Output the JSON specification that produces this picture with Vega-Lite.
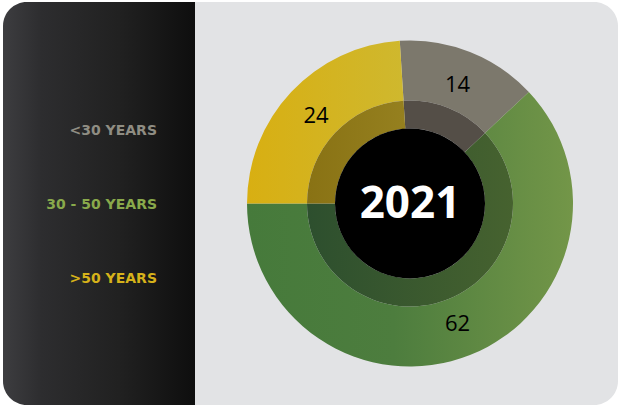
{
  "$schema": "https://vega.github.io/schema/vega-lite/v6.json",
  "width": 618,
  "height": 405,
  "autosize": {"type": "fit", "contains": "padding"},
  "padding": {"left": 3, "top": 2, "right": 0, "bottom": 0},
  "background": "#ffffff",
  "config": {"view": {"fill": "#e2e3e5", "stroke": null, "cornerRadius": 24}},
  "data": {"values": [
    {"group": "<30 YEARS", "value": 14, "order": 2},
    {"group": "30 - 50 YEARS", "value": 62, "order": 3},
    {"group": ">50 YEARS", "value": 24, "order": 1}
  ]},
  "layer": [
    {
      "data": {"values": [{}]},
      "mark": {
        "type": "rect",
        "cornerRadiusTopLeft": 24,
        "cornerRadiusBottomLeft": 24,
        "fill": {"gradient": "linear", "x1": 0, "y1": 0, "x2": 1, "y2": 0, "stops": [
          {"offset": 0, "color": "#3d3d40"},
          {"offset": 0.2, "color": "#2d2d2f"},
          {"offset": 0.6, "color": "#212121"},
          {"offset": 1, "color": "#0e0e0e"}
        ]}
      },
      "encoding": {
        "x": {"datum": 0, "type": "quantitative", "scale": {"domain": [0, 615], "nice": false, "zero": false}, "axis": null},
        "x2": {"datum": 192}
      }
    },
    {
      "mark": {"type": "text", "font": "DejaVu Sans", "fontWeight": "bold", "fontSize": 14, "align": "right", "baseline": "middle"},
      "encoding": {
        "x": {"datum": 154, "type": "quantitative"},
        "y": {"field": "group", "type": "nominal", "scale": {"type": "point", "domain": ["<30 YEARS", "30 - 50 YEARS", ">50 YEARS"], "range": [129, 277], "padding": 0}, "axis": null},
        "text": {"field": "group"},
        "fill": {
          "condition": [
            {"test": "datum.group === '<30 YEARS'", "value": "#8f8d83"},
            {"test": "datum.group === '30 - 50 YEARS'", "value": "#89a94b"}
          ],
          "value": "#d6b21a"
        }
      }
    },
    {
      "mark": {"type": "arc", "radius": 163, "radius2": 103},
      "encoding": {
        "x": {"datum": 407, "type": "quantitative"},
        "theta": {"field": "value", "type": "quantitative", "stack": true, "scale": {"range": [4.712389, 10.995574]}},
        "order": {"field": "order"},
        "fill": {
          "condition": [
            {"test": "datum.group === '<30 YEARS'", "value": "#7c786c"},
            {"test": "datum.group === '30 - 50 YEARS'", "value": {"gradient": "linear", "x1": 0, "y1": 0, "x2": 1, "y2": 0, "stops": [
              {"offset": 0, "color": "#467a3b"},
              {"offset": 0.45, "color": "#4d7d3e"},
              {"offset": 1, "color": "#739648"}
            ]}}
          ],
          "value": {"gradient": "linear", "x1": 0, "y1": 0, "x2": 1, "y2": 0, "stops": [
            {"offset": 0, "color": "#d8af12"},
            {"offset": 1, "color": "#cfb82e"}
          ]}
        }
      }
    },
    {
      "mark": {"type": "arc", "radius": 103, "radius2": 75},
      "encoding": {
        "x": {"datum": 407, "type": "quantitative"},
        "theta": {"field": "value", "type": "quantitative", "stack": true},
        "order": {"field": "order"},
        "fill": {
          "condition": [
            {"test": "datum.group === '<30 YEARS'", "value": "#544e47"},
            {"test": "datum.group === '30 - 50 YEARS'", "value": {"gradient": "linear", "x1": 0, "y1": 0, "x2": 1, "y2": 0, "stops": [
              {"offset": 0, "color": "#2d4f2e"},
              {"offset": 1, "color": "#46622f"}
            ]}}
          ],
          "value": {"gradient": "linear", "x1": 0, "y1": 0, "x2": 1, "y2": 0, "stops": [
            {"offset": 0, "color": "#897214"},
            {"offset": 1, "color": "#95801f"}
          ]}
        }
      }
    },
    {
      "data": {"values": [{}]},
      "mark": {"type": "arc", "radius": 75, "fill": "#000000"},
      "encoding": {
        "x": {"datum": 407, "type": "quantitative"}
      }
    },
    {
      "mark": {"type": "text", "radius": 129, "font": "Open Sans", "fontSize": 22, "fill": "#000000", "baseline": "alphabetic", "dy": 8},
      "encoding": {
        "x": {"datum": 407, "type": "quantitative"},
        "theta": {"field": "value", "type": "quantitative", "stack": true},
        "order": {"field": "order"},
        "text": {"field": "value"}
      }
    },
    {
      "data": {"values": [{"year": "2021"}]},
      "mark": {"type": "text", "font": "Open Sans", "fontWeight": "bold", "fontSize": 44, "fill": "#ffffff", "baseline": "alphabetic", "dy": 14.5},
      "encoding": {
        "x": {"datum": 407, "type": "quantitative"},
        "text": {"field": "year"}
      }
    }
  ]
}
